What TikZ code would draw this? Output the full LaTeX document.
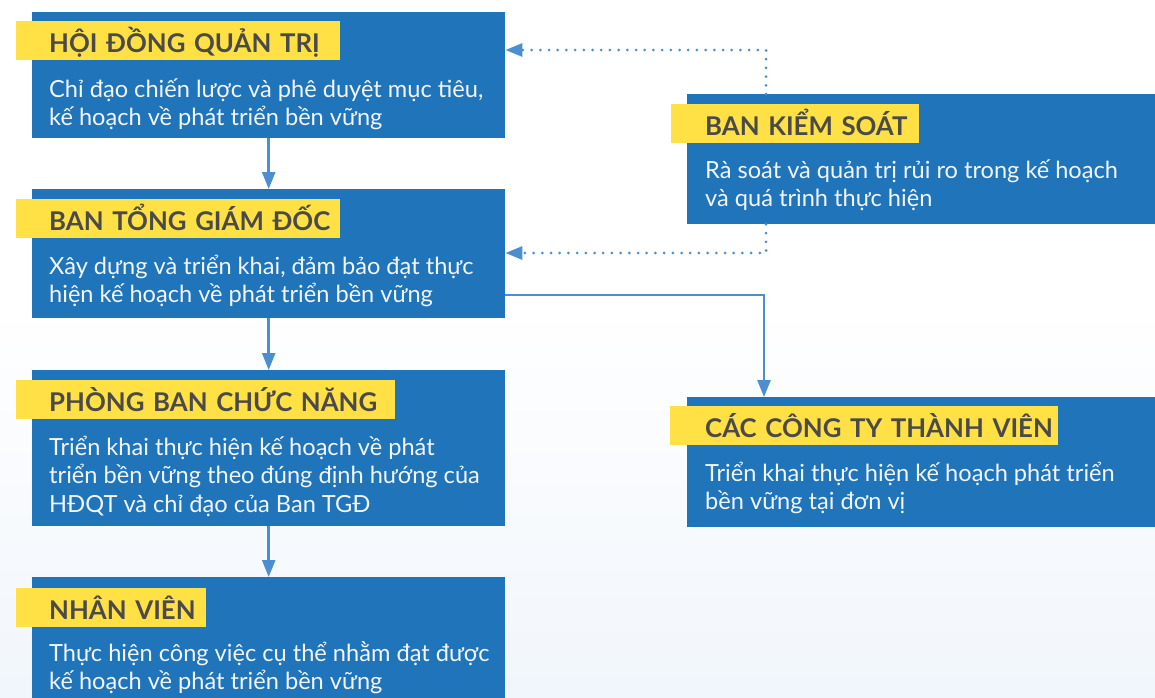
\documentclass[tikz,border=0pt]{standalone}
\usepackage{fontspec}
\setmainfont{Lato}
\usetikzlibrary{arrows.meta}
\definecolor{boxblue}{HTML}{1F74BA}
\definecolor{ylw}{HTML}{FFE145}
\definecolor{lbl}{HTML}{4A4A4A}
\definecolor{arrc}{HTML}{4B8FCF}
\definecolor{bodytxt}{HTML}{F2F6FB}
\definecolor{bgtint}{HTML}{F1F6FC}
\tikzset{
  box/.style={fill=boxblue, draw=none, anchor=north west, inner sep=0pt},
  lab/.style={fill=ylw, anchor=north west, inner xsep=0pt, inner ysep=0pt,
    minimum height=39pt, text height=27pt, text depth=4pt, align=left,
    font=\fontsize{25.8}{25.8}\selectfont\bfseries, text=lbl},
  body/.style={anchor=base west, inner sep=0pt, text=bodytxt,
    font=\fontsize{23.6}{28.6}\selectfont},
  arr/.style={draw=arrc, line width=2.5pt, -{Triangle[length=17pt,width=13pt]}},
  dotarr/.style={draw=arrc, line width=3pt, line cap=round,
    dash pattern=on 0pt off 8.7pt, -{Triangle[length=17pt,width=13pt]}},
}
\newcommand{\bodytext}[1]{\parbox[t]{470pt}{\raggedright #1}}
\begin{document}
\begin{tikzpicture}[x=1pt,y=-1pt]
\useasboundingbox (0,0) rectangle (1155,697);
\shade[top color=white, bottom color=bgtint] (0,300) rectangle (1155,697);
% boxes
\node[box, minimum width=473pt, minimum height=126pt] (b1) at (32,12) {};
\node[box, minimum width=473pt, minimum height=129pt] (b2) at (32,189) {};
\node[box, minimum width=473pt, minimum height=156pt] (b3) at (32,370) {};
\node[box, minimum width=473pt, minimum height=150pt] (b4) at (32,577) {};
\node[box, minimum width=468pt, minimum height=130pt] (b5) at (687,94) {};
\node[box, minimum width=468pt, minimum height=130pt] (b6) at (687,397) {};
% labels
\node[lab, text width=324pt] (l1) at (16,21) {\hspace*{33pt}HỘI ĐỒNG QUẢN TRỊ};
\node[lab, text width=324pt] (l2) at (16,199) {\hspace*{33pt}BAN TỔNG GIÁM ĐỐC};
\node[lab, text width=379pt] (l3) at (16,380) {\hspace*{33pt}PHÒNG BAN CHỨC NĂNG};
\node[lab, text width=190pt] (l4) at (16,588) {\hspace*{33pt}NHÂN VIÊN};
\node[lab, text width=248pt] (l5) at (671,104) {\hspace*{34pt}BAN KIỂM SOÁT};
\node[lab, text width=388pt] (l6) at (670,406) {\hspace*{35pt}CÁC CÔNG TY THÀNH VIÊN};
% body texts
\node[body] (t1) at (49,97) {\bodytext{Chỉ đạo chiến lược và phê duyệt mục tiêu,\\kế hoạch về phát triển bền vững}};
\node[body] (t2) at (49,274) {\bodytext{Xây dựng và triển khai, đảm bảo đạt thực\\hiện kế hoạch về phát triển bền vững}};
\node[body] (t3) at (49,455) {\bodytext{Triển khai thực hiện kế hoạch về phát\\triển bền vững theo đúng định hướng của\\HĐQT và chỉ đạo của Ban TGĐ}};
\node[body] (t4) at (49,661) {\bodytext{Thực hiện công việc cụ thể nhằm đạt được\\kế hoạch về phát triển bền vững}};
\node[body] (t5) at (705,178) {\bodytext{Rà soát và quản trị rủi ro trong kế hoạch\\và quá trình thực hiện}};
\node[body] (t6) at (705,481) {\bodytext{Triển khai thực hiện kế hoạch phát triển\\bền vững tại đơn vị}};
% connectors
\draw[arr] (b1.south) -- (b2.north);
\draw[arr] (b2.south) -- (b3.north);
\draw[arr] (b3.south) -- (b4.north);
\coordinate (k1) at (766,50);
\coordinate (k2) at (766,253);
\coordinate (k3) at (764,295);
\draw[dotarr] (b5.north -| k1) -- (k1) -- (k1 -| b1.east);
\draw[dotarr] (b5.south -| k2) -- (k2) -- (k2 -| b2.east);
\draw[arr] (k3 -| b2.east) -- (k3) -- (b6.north -| k3);
\end{tikzpicture}
\end{document}
